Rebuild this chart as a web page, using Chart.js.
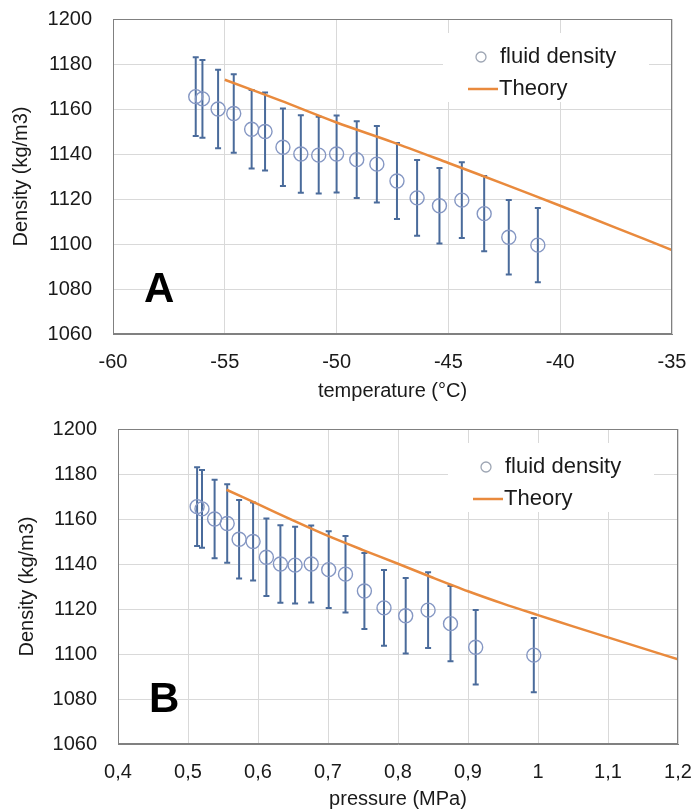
<!DOCTYPE html>
<html>
<head>
<meta charset="utf-8">
<script src="https://cdn.jsdelivr.net/npm/chart.js@4"></script>
<style>
  body { margin: 0; background: #fff; }
  #wrap { position: relative; width: 692px; height: 811px; }
  canvas { position: absolute; left: 0; }
  #chartA { top: 0; }
  #chartB { top: 405px; }
</style>
</head>
<body>
<div id="wrap">
  <canvas id="chartA" width="692" height="405"></canvas>
  <canvas id="chartB" width="692" height="406"></canvas>
</div>
<script>
// measured points (same samples, plotted vs temperature and vs pressure)
const temperature = [-56.3, -56.0, -55.3, -54.6, -53.8, -53.2, -52.4, -51.6, -50.8, -50.0, -49.1, -48.2, -47.3, -46.4, -45.4, -44.4, -43.4, -42.3, -41.0];
const pressure = [0.513, 0.520, 0.538, 0.556, 0.573, 0.593, 0.612, 0.632, 0.653, 0.676, 0.701, 0.725, 0.752, 0.780, 0.811, 0.843, 0.875, 0.911, 0.994];
const density = [1165.5, 1164.5, 1160, 1158, 1151, 1150, 1143, 1140, 1139.5, 1140, 1137.5, 1135.5, 1128, 1120.5, 1117, 1119.5, 1113.5, 1103, 1099.5];
const densityErr = [17.5, 17.3, 17.4, 17.4, 17.4, 17.3, 17.2, 17.2, 17.1, 17.1, 17.1, 17.0, 16.9, 16.8, 16.8, 16.8, 16.7, 16.6, 16.5];

// theory curves
const theoryTemp = [-55, -52.5, -50, -47.5, -45, -42.5, -40, -37.5, -35];
const theoryDensityT = [1173, 1163.7, 1154, 1145.3, 1136, 1126.6, 1117, 1107.2, 1097.3];
const theoryPressure = [0.555, 0.6, 0.65, 0.7, 0.75, 0.8, 0.85, 0.9, 0.95, 1.0, 1.05, 1.1, 1.15, 1.2];
const theoryDensityP = [1173, 1166.6, 1159.4, 1152.5, 1146.2, 1140.1, 1133.9, 1127.9, 1122.4, 1117.3, 1112.3, 1107.4, 1102.5, 1097.6];

// axis ticks
const densityTicks = [1060, 1080, 1100, 1120, 1140, 1160, 1180, 1200];
const tempTicks = [-60, -55, -50, -45, -40, -35];
const tempTickLabels = ["-60", "-55", "-50", "-45", "-40", "-35"];
const pressureTicks = [0.4, 0.5, 0.6, 0.7, 0.8, 0.9, 1.0, 1.1, 1.2];
const pressureTickLabels = ["0,4", "0,5", "0,6", "0,7", "0,8", "0,9", "1", "1,1", "1,2"];

const FONT = "'Liberation Sans', Arial, sans-serif";
const TEXT = "#1a1a1a";
const GRID = "#d9d9d9";

const zip = (xs, ys) => xs.map((v, i) => ({ x: v, y: ys[i] }));

// vertical error bars from the data through the scales
const errorBars = {
  id: "errorBars",
  beforeDatasetsDraw(chart) {
    const { ctx, scales: { x, y } } = chart;
    const pts = chart.data.datasets[0].data;
    ctx.save();
    ctx.strokeStyle = "#4a6b9b";
    ctx.lineWidth = 2;
    pts.forEach((p, i) => {
      const px = x.getPixelForValue(p.x);
      const top = y.getPixelForValue(p.y + densityErr[i]);
      const bot = y.getPixelForValue(p.y - densityErr[i]);
      ctx.beginPath();
      ctx.moveTo(px, top); ctx.lineTo(px, bot);
      ctx.moveTo(px - 3, top); ctx.lineTo(px + 3, top);
      ctx.moveTo(px - 3, bot); ctx.lineTo(px + 3, bot);
      ctx.stroke();
    });
    ctx.restore();
  }
};

// frame, in-plot legend and panel letter
const decor = {
  id: "decor",
  afterDraw(chart, args, opts) {
    const { ctx, chartArea: a } = chart;
    ctx.save();
    ctx.strokeStyle = "#808080";
    ctx.lineWidth = 1;
    ctx.strokeRect(a.left + 0.5, a.top + 0.5, a.right - a.left - 1, a.bottom - a.top - 1);

    // legend box
    ctx.fillStyle = "#fff";
    ctx.fillRect(a.left + 330, a.top + 14, 206, 69);
    ctx.strokeStyle = "#9ea6b4";
    ctx.lineWidth = 1.3;
    ctx.beginPath();
    ctx.arc(a.left + 368, a.top + 38, 5, 0, Math.PI * 2);
    ctx.stroke();
    ctx.strokeStyle = "#e98a3d";
    ctx.lineWidth = 2.5;
    ctx.beginPath();
    ctx.moveTo(a.left + 355, a.top + 70);
    ctx.lineTo(a.left + 385, a.top + 70);
    ctx.stroke();
    ctx.fillStyle = TEXT;
    ctx.font = "22px " + FONT;
    ctx.textBaseline = "middle";
    ctx.textAlign = "left";
    ctx.fillText("fluid density", a.left + 387, a.top + 38);
    ctx.fillText("Theory", a.left + 386, a.top + 70);

    ctx.font = "bold 42px " + FONT;
    ctx.fillStyle = "#000";
    ctx.fillText(opts.letter, a.left + 31, a.bottom - 44);
    ctx.restore();
  }
};

function makeChart(id, cfg) {
  const canvas = document.getElementById(id);
  return new Chart(canvas, {
    type: "scatter",
    data: {
      datasets: [
        {
          label: "fluid density",
          data: zip(cfg.xs, density),
          pointRadius: 7,
          pointBorderWidth: 1.4,
          pointBorderColor: "#8597c3",
          pointBackgroundColor: "rgba(0,0,0,0)",
          showLine: false
        },
        {
          label: "Theory",
          data: zip(cfg.theoryX, cfg.theoryY),
          showLine: true,
          borderColor: "#e98a3d",
          borderWidth: 2.5,
          pointRadius: 0,
          tension: 0.3
        }
      ]
    },
    options: {
      responsive: false,
      animation: false,
      layout: { padding: { top: cfg.padTop, right: cfg.padRight, left: 0, bottom: 0 } },
      plugins: {
        legend: { display: false },
        tooltip: { enabled: false },
        decor: { letter: cfg.letter }
      },
      scales: {
        x: {
          type: "linear",
          min: cfg.xMin,
          max: cfg.xMax,
          afterBuildTicks: s => { s.ticks = cfg.ticks.map(v => ({ value: v })); },
          afterFit: s => { s.height = cfg.xAxisHeight; },
          ticks: {
            padding: 0,
            color: TEXT,
            font: { family: FONT, size: 20 },
            maxRotation: 0,
            callback: (v, i) => cfg.tickLabels[i]
          },
          // invisible tick marks used as label offset
          grid: { color: GRID, drawTicks: true, tickLength: 16, tickColor: "rgba(0,0,0,0)" },
          border: { color: "#808080" },
          title: {
            display: true,
            text: cfg.xTitle,
            color: TEXT,
            font: { family: FONT, size: 20 },
            padding: { top: 0, bottom: cfg.titlePadBottom }
          }
        },
        y: {
          min: 1060,
          max: 1200,
          afterBuildTicks: s => { s.ticks = densityTicks.map(v => ({ value: v })); },
          afterFit: s => { s.width = cfg.yAxisWidth; },
          ticks: {
            padding: 0,
            color: TEXT,
            font: { family: FONT, size: 20 },
            callback: v => String(v)
          },
          grid: { color: GRID, drawTicks: true, tickLength: 21, tickColor: "rgba(0,0,0,0)" },
          border: { color: "#808080" },
          title: {
            display: true,
            text: "Density (kg/m3)",
            color: TEXT,
            font: { family: FONT, size: 20 },
            padding: { top: cfg.yTitlePad, bottom: 0 }
          }
        }
      }
    },
    plugins: [errorBars, decor]
  });
}

// A: density vs temperature
makeChart("chartA", {
  xs: temperature,
  theoryX: theoryTemp,
  theoryY: theoryDensityT,
  xMin: -60, xMax: -35,
  ticks: tempTicks,
  tickLabels: tempTickLabels,
  xTitle: "temperature (°C)",
  letter: "A",
  padTop: 19, padRight: 20,
  xAxisHeight: 71, yAxisWidth: 113,
  titlePadBottom: 2, yTitlePad: 9
});

// B: density vs pressure
makeChart("chartB", {
  xs: pressure,
  theoryX: theoryPressure,
  theoryY: theoryDensityP,
  xMin: 0.4, xMax: 1.2,
  ticks: pressureTicks,
  tickLabels: pressureTickLabels,
  xTitle: "pressure (MPa)",
  letter: "B",
  padTop: 24, padRight: 14,
  xAxisHeight: 67, yAxisWidth: 118,
  titlePadBottom: 0, yTitlePad: 15
});
</script>
</body>
</html>
